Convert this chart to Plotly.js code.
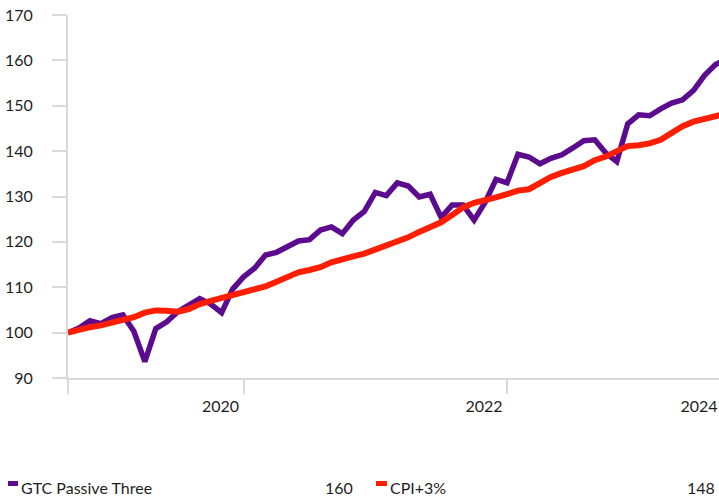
<!DOCTYPE html>
<html>
<head>
<meta charset="utf-8">
<script src="https://cdn.plot.ly/plotly-3.0.1.min.js"></script>
<style>html,body{margin:0;padding:0;background:#fff;overflow:hidden}#chart{width:719px;height:497px}</style>
</head>
<body>
<div id="chart"></div>
<script>
// ---- data (monthly index values) ----
const seriesNames = ["GTC Passive Three", "CPI+3%"];
const gtc = [100.0,101.0,102.6,102.0,103.3,103.9,100.3,93.6,100.9,102.4,
             104.6,106.2,107.5,106.3,104.4,109.6,112.3,114.2,117.1,117.7,
             118.9,120.2,120.5,122.6,123.3,121.8,124.8,126.7,130.9,130.2,
             133.0,132.3,129.9,130.5,125.4,128.1,128.1,124.8,128.7,133.8,
             133.0,139.3,138.7,137.2,138.4,139.2,140.7,142.3,142.5,139.6,
             137.7,146.0,148.0,147.8,149.3,150.6,151.3,153.4,156.7,159.1,160.3];
const cpi = [100.0,100.7,101.2,101.6,102.1,102.8,103.4,104.4,104.9,104.8,
             104.6,105.2,106.3,107.0,107.6,108.2,108.8,109.3,110.2,111.2,
             112.3,113.3,113.8,114.4,115.5,116.3,116.8,117.4,118.3,119.1,
             119.9,121.0,122.2,123.1,124.3,125.9,127.6,128.6,129.1,129.8,
             130.5,131.3,131.6,132.9,134.3,135.2,136.0,136.7,138.0,138.8,
             140.0,141.1,141.3,141.7,142.5,144.0,145.5,146.5,147.1,147.9,148.3];
const yTicks = [90,100,110,120,130,140,150,160,170];
const xTickLabels = ["2020","2022","2024"];

// ---- layout helpers ----
const months = gtc.map((_, i) => i);
const xLabelPos = [13.9, 37.9, 57.5];
const xTickMarks = [0, 16, 40];
const W = 719, H = 497;
const M = {l: 68, r: 0, t: 15, b: 119};
const plotW = W - M.l - M.r, plotH = H - M.t - M.b;
const px2x = px => (px - M.l) / plotW;
const py2y = py => (H - M.b - py) / plotH;

const purple = "#5c0b8f";
const red = "#ff1f00";
const axisGrey = "#d9d9d9";
const textCol = "#1e1e1e";
const fontFam = "Lato, 'Noto Sans', sans-serif";

const traces = [
  {x: months, y: gtc, name: seriesNames[0], type: "scatter", mode: "lines",
   line: {color: purple, width: 5.5, shape: "linear"}, hoverinfo: "skip"},
  {x: months, y: cpi, name: seriesNames[1], type: "scatter", mode: "lines",
   line: {color: red, width: 6, shape: "linear"}, hoverinfo: "skip"}
];

const lastG = Math.round(gtc[gtc.length - 1]);
const lastC = Math.round(cpi[cpi.length - 1]);
const legY = py2y(487.5);

const layout = {
  width: W, height: H,
  margin: M,
  paper_bgcolor: "#fff", plot_bgcolor: "#fff",
  showlegend: false,
  font: {family: fontFam, size: 16, color: textCol},
  xaxis: {
    range: [0, plotW / 10.975],
    showgrid: false, zeroline: false,
    showline: true, linecolor: axisGrey, linewidth: 2,
    tickmode: "array", tickvals: xLabelPos, ticktext: xTickLabels,
    ticks: "", ticklabelstandoff: 13, ticklabeloverflow: "allow",
    tickfont: {family: fontFam, size: 16, color: textCol},
    minor: {tickmode: "array", tickvals: xTickMarks, ticks: "outside",
            ticklen: 14, tickwidth: 2, tickcolor: axisGrey, showgrid: false},
    fixedrange: true
  },
  yaxis: {
    range: [90, 170],
    showgrid: false, zeroline: false,
    showline: true, linecolor: axisGrey, linewidth: 2,
    tickmode: "array", tickvals: yTicks,
    ticks: "outside", ticklen: 14, tickwidth: 2, tickcolor: axisGrey,
    ticklabelstandoff: 16,
    tickfont: {family: fontFam, size: 16, color: textCol},
    fixedrange: true
  },
  shapes: [
    {type: "rect", xref: "paper", yref: "paper",
     x0: px2x(8), x1: px2x(18), y0: py2y(486), y1: py2y(481),
     fillcolor: purple, line: {width: 0}},
    {type: "rect", xref: "paper", yref: "paper",
     x0: px2x(376), x1: px2x(387), y0: py2y(486), y1: py2y(481),
     fillcolor: red, line: {width: 0}}
  ],
  annotations: [
    {xref: "paper", yref: "paper", x: px2x(19), y: legY, xanchor: "left", yanchor: "middle",
     text: seriesNames[0], showarrow: false, font: {family: fontFam, size: 16, color: textCol}},
    {xref: "paper", yref: "paper", x: px2x(355), y: legY, xanchor: "right", yanchor: "middle",
     text: String(lastG), showarrow: false, font: {family: fontFam, size: 16, color: textCol}},
    {xref: "paper", yref: "paper", x: px2x(388), y: legY, xanchor: "left", yanchor: "middle",
     text: seriesNames[1], showarrow: false, font: {family: fontFam, size: 16, color: textCol}},
    {xref: "paper", yref: "paper", x: px2x(717), y: legY, xanchor: "right", yanchor: "middle",
     text: String(lastC), showarrow: false, font: {family: fontFam, size: 16, color: textCol}}
  ]
};

Plotly.newPlot("chart", traces, layout, {displayModeBar: false, staticPlot: true});
</script>
</body>
</html>
